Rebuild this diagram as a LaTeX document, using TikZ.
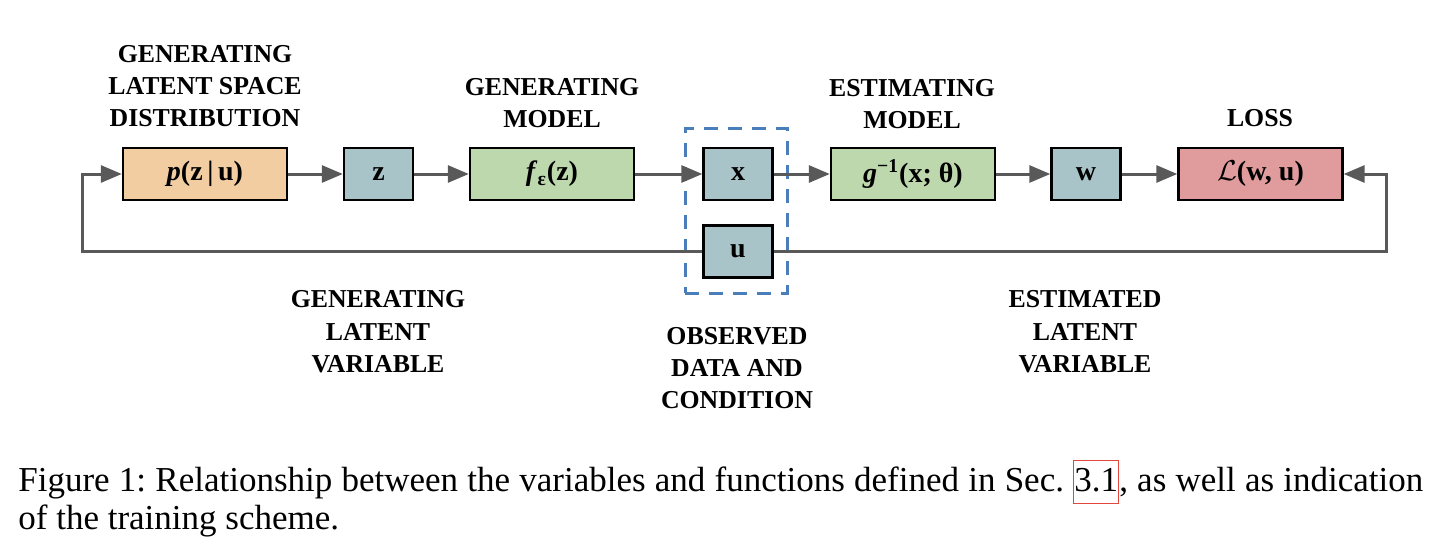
\documentclass[tikz,border=0pt]{standalone}
\usepackage{fontspec}
\setmainfont{Liberation Serif}
\usetikzlibrary{arrows.meta}
\definecolor{cOrange}{RGB}{243,205,162}
\definecolor{cBlue}{RGB}{169,196,200}
\definecolor{cGreen}{RGB}{190,216,174}
\definecolor{cRed}{RGB}{224,156,156}
\definecolor{cArrow}{RGB}{89,89,89}
\definecolor{cDash}{RGB}{74,126,187}
\definecolor{cLink}{RGB}{228,70,60}
\newcommand{\linkbox}[1]{{\setlength{\fboxsep}{0pt}\setlength{\fboxrule}{0.6pt}\smash{\fcolorbox{cLink}{white}{\rule[-6pt]{0pt}{21pt}#1}}}}
\frenchspacing
\begin{document}
\begin{tikzpicture}[x=0.5pt,y=-0.5pt,
 box/.style={draw=black, line width=1.2pt, inner sep=0pt, minimum height=26pt, font=\fontsize{14}{16}\selectfont\bfseries},
 boxW/.style={box, minimum width=82pt},
 boxS/.style={box, minimum width=34.5pt},
 lbl/.style={font=\fontsize{12.9}{16.2}\selectfont\bfseries, align=center, inner sep=0pt},
 conn/.style={draw=cArrow, line width=1.5pt, -{Triangle[length=10.5pt,width=8.5pt]}},
]
\useasboundingbox (0,0) rectangle (1448,546);
\node[boxW, fill=cOrange] (p) at (205,174) {\textit{p}(z\,|\,u)};
\node[boxS, fill=cBlue] (z) at (378.5,174) {z};
\node[boxW, fill=cGreen] (f) at (552,174) {\textit{f}\textsubscript{ε}(z)};
\node[boxS, fill=cBlue] (x) at (738,174) {x};
\node[boxS, fill=cBlue] (u) at (738,251.5) {u};
\node[boxW, fill=cGreen] (g) at (913,174) {\textit{g}\textsuperscript{−1}(x; θ)};
\node[boxS, fill=cBlue] (w) at (1086,174) {w};
\node[boxW, fill=cRed] (L) at (1260.5,174) {$\mathcal{L}$(w, u)};
\node[draw=cDash, line width=1.5pt, dash pattern=on 7pt off 5pt, minimum width=51pt, minimum height=82.5pt, inner sep=0pt] (obs) at (736,210.5) {};
\draw[conn] (p) -- (z);
\draw[conn] (z) -- (f);
\draw[conn] (f) -- (x);
\draw[conn] (x) -- (g);
\draw[conn] (g) -- (w);
\draw[conn] (w) -- (L);
\coordinate (ll) at (82,251.5);
\coordinate (rl) at (1386,251.5);
\draw[conn] (u.west) -- (ll) |- (p.west);
\draw[conn] (u.east) -- (rl) |- (L.east);
\node[lbl] (lGLSD) at (205,86) {GENERATING\\LATENT SPACE\\DISTRIBUTION};
\node[lbl] (lGM) at (552,103) {GENERATING\\MODEL};
\node[lbl] (lEM) at (912,104) {ESTIMATING\\MODEL};
\node[lbl] (lLoss) at (1260,118) {LOSS};
\node[lbl] (lGLV) at (378,332) {GENERATING\\LATENT\\VARIABLE};
\node[lbl] (lODC) at (737,368) {OBSERVED\\DATA AND\\CONDITION};
\node[lbl] (lELV) at (1085,332) {ESTIMATED\\LATENT\\VARIABLE};
\node[anchor=north west, inner sep=0pt, text width=702.5pt, align=justify, font=\fontsize{17.5}{19}\selectfont] (cap) at (18,466) {Figure 1: Relationship between the variables and functions defined in Sec.~\linkbox{3.1}, as well as indication\linebreak of the training scheme.};
\end{tikzpicture}
\end{document}
